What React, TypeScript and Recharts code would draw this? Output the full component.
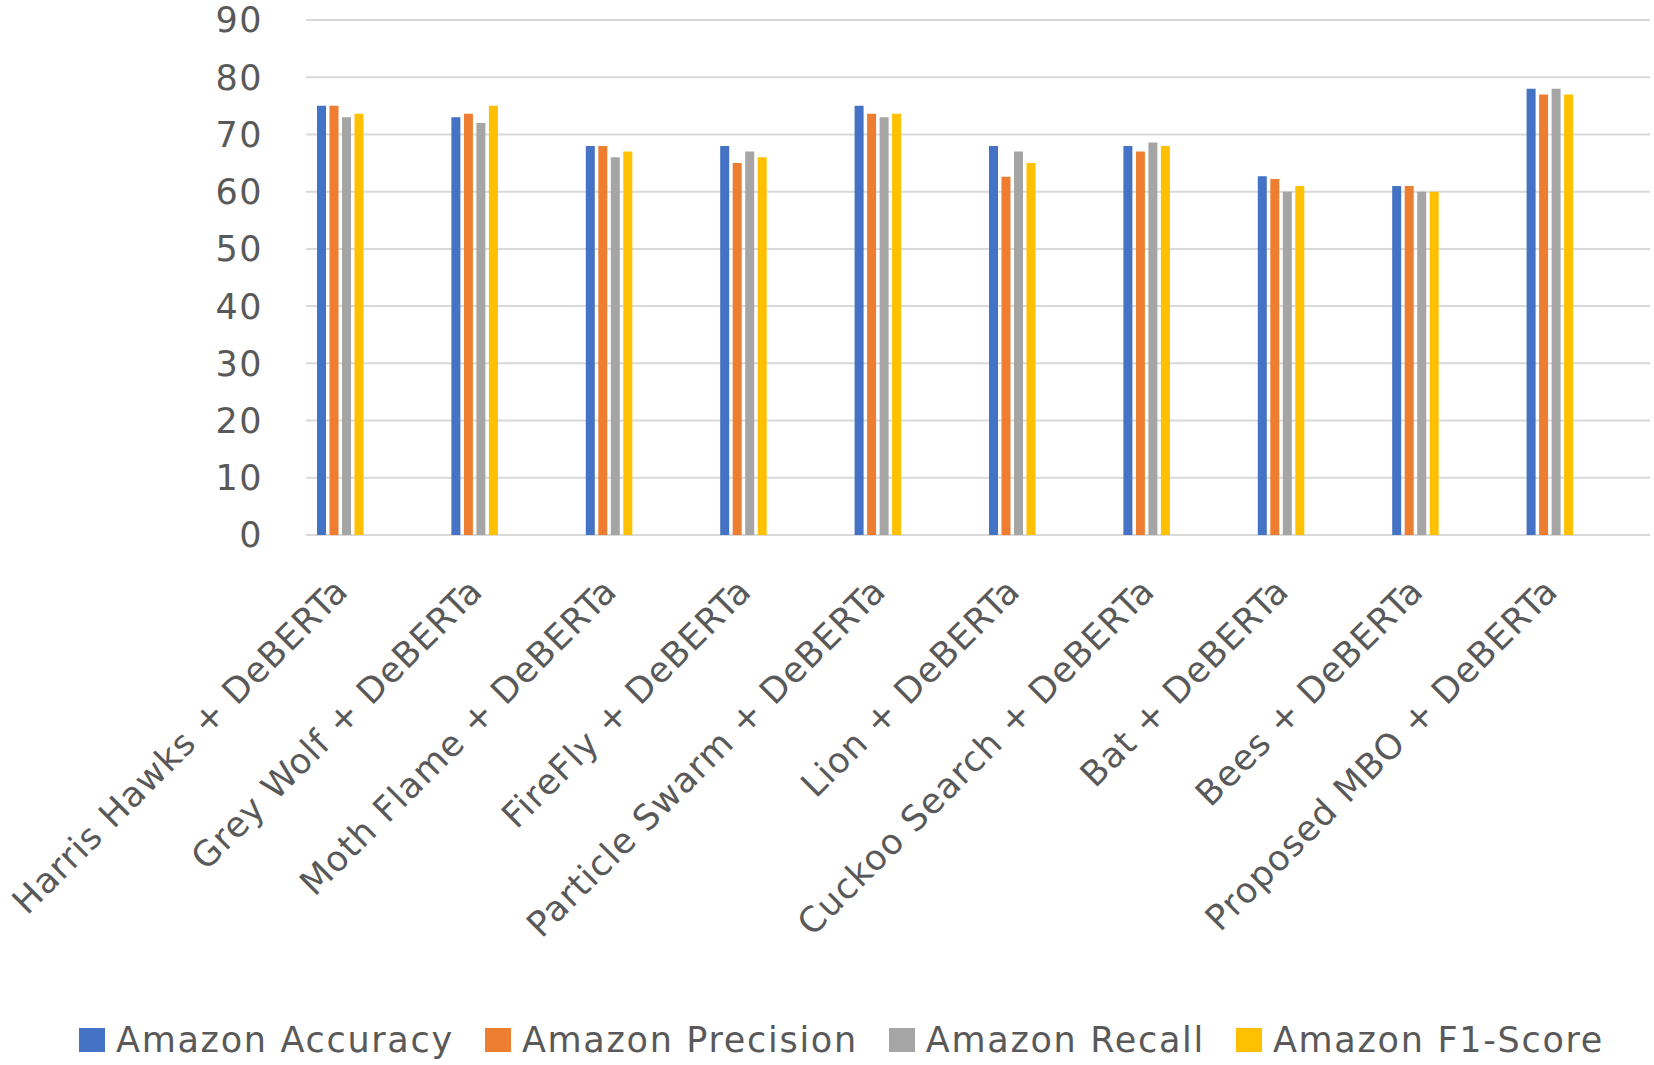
import { BarChart, Bar, XAxis, YAxis, CartesianGrid, Legend } from "recharts";

const categories = [
  "Harris Hawks + DeBERTa",
  "Grey Wolf + DeBERTa",
  "Moth Flame + DeBERTa",
  "FireFly + DeBERTa",
  "Particle Swarm + DeBERTa",
  "Lion + DeBERTa",
  "Cuckoo Search + DeBERTa",
  "Bat + DeBERTa",
  "Bees + DeBERTa",
  "Proposed MBO + DeBERTa",
];
const accuracy = [75, 73, 68, 68, 75, 68, 68, 62.7, 61, 78];
const precision = [75, 73.6, 68, 65, 73.6, 62.6, 67, 62.2, 61, 77];
const recall = [73, 72, 66, 67, 73, 67, 68.6, 60, 60, 78];
const f1 = [73.6, 75, 67, 66, 73.6, 65, 68, 61, 60, 77];
const yTicks = [0, 10, 20, 30, 40, 50, 60, 70, 80, 90];

const series = [
  { key: "acc", name: "Amazon Accuracy", color: "#4472C4" },
  { key: "prec", name: "Amazon Precision", color: "#ED7D31" },
  { key: "rec", name: "Amazon Recall", color: "#A5A5A5" },
  { key: "f1", name: "Amazon F1-Score", color: "#FFC000" },
];

const data = categories.map((name, i) => ({
  name,
  acc: accuracy[i],
  prec: precision[i],
  rec: recall[i],
  f1: f1[i],
}));

const FONT = "'DejaVu Sans', sans-serif";
const TEXT = "#595959";

// rotated category labels, ending just right of the group centre
function CategoryTick({ x, y, payload }: any) {
  const ax = x + 10;
  const ay = y + 58;
  return (
    <text
      x={ax}
      y={ay}
      textAnchor="end"
      fill={TEXT}
      fontSize={35}
      fontFamily={FONT}
      letterSpacing={1}
      transform={`rotate(-45, ${ax}, ${ay})`}
    >
      {payload.value}
    </text>
  );
}

function LegendRow() {
  return (
    <div
      style={{
        display: "flex",
        alignItems: "center",
        height: 50,
        paddingLeft: 79,
        fontFamily: FONT,
        fontSize: 35,
        letterSpacing: 1.7,
        color: TEXT,
      }}
    >
      {series.map((s) => (
        <div key={s.key} style={{ display: "flex", alignItems: "center", marginRight: 31 }}>
          <span style={{ width: 26, height: 24, background: s.color, marginRight: 11 }} />
          <span>{s.name}</span>
        </div>
      ))}
    </div>
  );
}

export default function App() {
  return (
    <div style={{ position: "absolute", left: 0, top: 0, background: "#fff" }}>
      <BarChart
        width={1654}
        height={1065}
        data={data}
        margin={{ top: 20, right: 4, left: 0, bottom: 0 }}
        barSize={9}
        barGap={3.5}
      >
        <CartesianGrid vertical={false} stroke="#d9d9d9" strokeWidth={2} />
        <XAxis
          dataKey="name"
          interval={0}
          height={480}
          padding={{ left: -33, right: 33 }}
          axisLine={false}
          tickLine={false}
          tickSize={0}
          tickMargin={0}
          tick={<CategoryTick />}
        />
        <YAxis
          width={306}
          domain={[0, 90]}
          ticks={yTicks}
          axisLine={false}
          tickLine={false}
          tickSize={0}
          tickMargin={43}
          tick={{ fill: TEXT, fontSize: 35, fontFamily: FONT, letterSpacing: 1.5 }}
        />
        <Legend
          verticalAlign="bottom"
          content={<LegendRow />}
          wrapperStyle={{ left: 0, bottom: 0, width: 1654, height: 50 }}
        />
        {series.map((s) => (
          <Bar key={s.key} dataKey={s.key} name={s.name} fill={s.color} isAnimationActive={false} />
        ))}
      </BarChart>
    </div>
  );
}
